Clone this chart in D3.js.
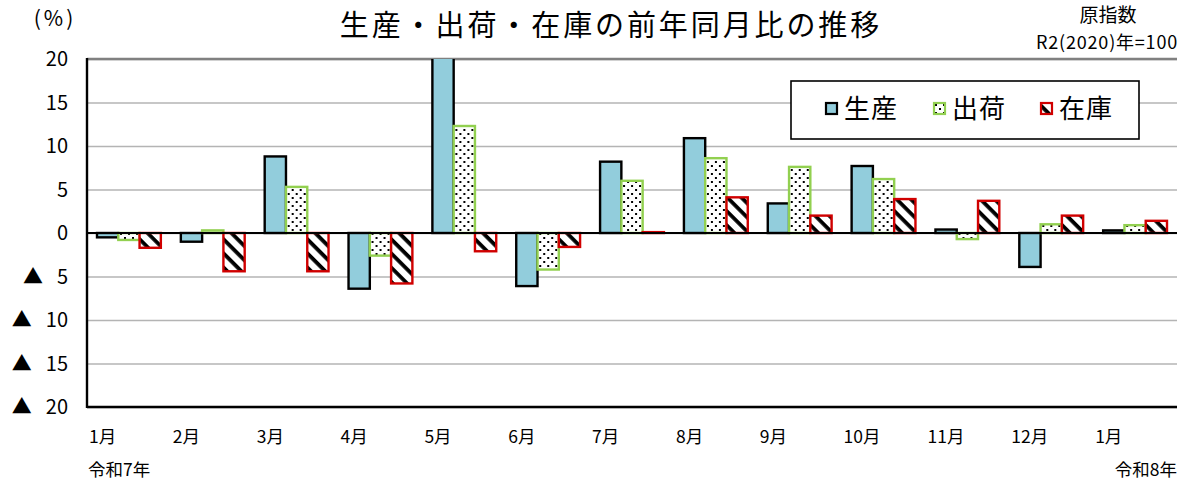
<!DOCTYPE html>
<html>
<head>
<meta charset="utf-8">
<script src="https://cdn.jsdelivr.net/npm/d3@7"></script>
<style>
  body { margin: 0; background: #fff; }
  text { font-family: "Noto Sans CJK JP", "Noto Sans", sans-serif; fill: #000; }
</style>
</head>
<body>
<div id="chart-container"></div>
<script>
// data
let months = ["1月", "2月", "3月", "4月", "5月", "6月", "7月", "8月", "9月", "10月", "11月", "12月", "1月"];
let seriesNames = ["生産", "出荷", "在庫"];
let production = [-0.5, -1.0, 8.8, -6.4, 20.4, -6.1, 8.2, 10.9, 3.4, 7.7, 0.4, -3.9, 0.3];
let shipments = [-0.8, 0.3, 5.3, -2.6, 12.3, -4.2, 6.0, 8.6, 7.6, 6.2, -0.7, 1.0, 0.9];
let inventory = [-1.7, -4.4, -4.4, -5.8, -2.1, -1.6, 0.1, 4.1, 2.0, 3.9, 3.7, 2.0, 1.4];
let yTicks = [20, 15, 10, 5, 0, -5, -10, -15, -20];

let w = 1190, h = 488;
let plotLeft = 87, plotRight = 1177, plotTop = 59, plotBottom = 407;

let svg = d3.select("#chart-container")
  .append("svg")
  .attr("width", w)
  .attr("height", h)
  .attr("viewBox", "0 0 " + w + " " + h);

// patterns
let defs = svg.append("defs");
let dots = defs.append("pattern")
  .attr("id", "dots")
  .attr("patternUnits", "userSpaceOnUse")
  .attr("width", 8)
  .attr("height", 8);
dots.append("rect").attr("width", 8).attr("height", 8).attr("fill", "#fff");
dots.append("rect").attr("x", 1).attr("y", 1).attr("width", 2).attr("height", 2).attr("fill", "#000");
dots.append("rect").attr("x", 5).attr("y", 5).attr("width", 2).attr("height", 2).attr("fill", "#000");

let stripes = defs.append("pattern")
  .attr("id", "stripes")
  .attr("patternUnits", "userSpaceOnUse")
  .attr("width", 10)
  .attr("height", 10)
  .attr("patternTransform", "rotate(45)");
stripes.append("rect").attr("width", 10).attr("height", 10).attr("fill", "#fff");
stripes.append("rect").attr("x", 0).attr("y", 0).attr("width", 10).attr("height", 3.8).attr("fill", "#000");

defs.append("clipPath").attr("id", "plot-clip")
  .append("rect")
  .attr("x", plotLeft - 5)
  .attr("y", plotTop)
  .attr("width", plotRight - plotLeft + 10)
  .attr("height", plotBottom - plotTop);

// scales
let x0 = d3.scaleBand()
  .domain(d3.range(months.length))
  .range([plotLeft, plotRight])
  .padding(0);
let x1 = d3.scaleBand()
  .domain(seriesNames)
  .range([0, x0.bandwidth()])
  .paddingInner(0)
  .paddingOuter(0.47);
let y = d3.scaleLinear().domain([-20, 20]).range([plotBottom, plotTop]);

let styles = {
  "生産": {fill: "#92CDDC", stroke: "#000"},
  "出荷": {fill: "url(#dots)", stroke: "#92D050"},
  "在庫": {fill: "url(#stripes)", stroke: "#D00000"}
};

// gridlines
svg.append("g")
  .attr("transform", "translate(" + plotLeft + ",0)")
  .call(d3.axisLeft(y).tickValues(yTicks).tickSize(-(plotRight - plotLeft)).tickFormat(""))
  .call(g => g.select(".domain").remove())
  .selectAll("line")
  .attr("stroke", "#b4b4b4")
  .attr("stroke-width", 1.3);

// top border
svg.append("line")
  .attr("x1", plotLeft).attr("x2", plotRight)
  .attr("y1", y(20)).attr("y2", y(20))
  .attr("stroke", "#808080")
  .attr("stroke-width", 2.5);

// bars
let rows = months.map((m, i) => ({i: i, vals: [
  {name: "生産", v: production[i]},
  {name: "出荷", v: shipments[i]},
  {name: "在庫", v: inventory[i]}
]}));

let barGrp = svg.append("g").attr("clip-path", "url(#plot-clip)");
barGrp.selectAll("g").data(rows).join("g")
  .attr("transform", d => "translate(" + x0(d.i) + ",0)")
  .selectAll("rect")
  .data(d => d.vals)
  .join("rect")
  .attr("x", d => x1(d.name))
  .attr("y", d => y(Math.max(0, d.v)))
  .attr("width", x1.bandwidth())
  .attr("height", d => Math.abs(y(d.v) - y(0)))
  .attr("fill", d => styles[d.name].fill)
  .attr("stroke", d => styles[d.name].stroke)
  .attr("stroke-width", 2.4);

// zero line
svg.append("line")
  .attr("x1", plotLeft).attr("x2", plotRight)
  .attr("y1", y(0)).attr("y2", y(0))
  .attr("stroke", "#000")
  .attr("stroke-width", 1.8);

// axes lines
svg.append("line")
  .attr("x1", plotLeft).attr("x2", plotLeft)
  .attr("y1", plotTop - 1).attr("y2", plotBottom + 1)
  .attr("stroke", "#000")
  .attr("stroke-width", 2.4);
svg.append("line")
  .attr("x1", plotLeft).attr("x2", plotRight)
  .attr("y1", plotBottom).attr("y2", plotBottom)
  .attr("stroke", "#000")
  .attr("stroke-width", 2.4);

// y labels (negative values shown with ▲)
let yLabels = svg.append("g").selectAll("g").data(yTicks).join("g");
yLabels.append("text")
  .attr("class", "num")
  .attr("x", 68)
  .attr("y", d => y(d) + 7)
  .attr("text-anchor", "end")
  .style("font-size", "20px")
  .text(d => Math.abs(d));
yLabels.filter(d => d < 0).append("text")
  .attr("x", function(d) {
    let num = this.parentNode.querySelector(".num");
    return 68 - num.getComputedTextLength() - 14;
  })
  .attr("y", d => y(d) + 7)
  .attr("text-anchor", "end")
  .style("font-size", "20px")
  .text("▲");

// x labels
svg.append("g").selectAll("text").data(months).join("text")
  .attr("x", (d, i) => x0(i) + 2)
  .attr("y", 443)
  .attr("text-anchor", "start")
  .style("font-size", "17.5px")
  .text(d => d);

svg.append("text")
  .attr("x", 88).attr("y", 476)
  .style("font-size", "17.5px")
  .text("令和7年");
svg.append("text")
  .attr("x", 1177).attr("y", 476)
  .attr("text-anchor", "end")
  .style("font-size", "17.5px")
  .text("令和8年");

// title and notes
svg.append("text")
  .attr("x", 611).attr("y", 36)
  .attr("text-anchor", "middle")
  .style("font-size", "29px")
  .style("letter-spacing", "2.9px")
  .text("生産・出荷・在庫の前年同月比の推移");
svg.append("text")
  .attr("x", 55).attr("y", 26)
  .attr("text-anchor", "middle")
  .style("font-size", "21px")
  .style("letter-spacing", "3px")
  .text("(%)");
svg.append("text")
  .attr("x", 1108).attr("y", 22)
  .attr("text-anchor", "middle")
  .style("font-size", "19px")
  .text("原指数");
svg.append("text")
  .attr("x", 1178).attr("y", 49)
  .attr("text-anchor", "end")
  .style("font-size", "18px")
  .style("letter-spacing", "0.8px")
  .text("R2(2020)年=100");

// legend
let legend = svg.append("g");
legend.append("rect")
  .attr("x", 791).attr("y", 81)
  .attr("width", 348).attr("height", 58)
  .attr("fill", "#fff")
  .attr("stroke", "#000")
  .attr("stroke-width", 1.6);
let legendX = [826, 934, 1041];
let items = legend.selectAll("g.item").data(seriesNames).join("g")
  .attr("class", "item")
  .attr("transform", (d, i) => "translate(" + legendX[i] + ",103)");
items.append("rect")
  .attr("width", 11).attr("height", 11)
  .attr("fill", d => styles[d].fill)
  .attr("stroke", d => styles[d].stroke)
  .attr("stroke-width", 2.2);
items.append("text")
  .attr("x", 18).attr("y", 15)
  .style("font-size", "26px")
  .style("letter-spacing", "1px")
  .text(d => d);
</script>
</body>
</html>
